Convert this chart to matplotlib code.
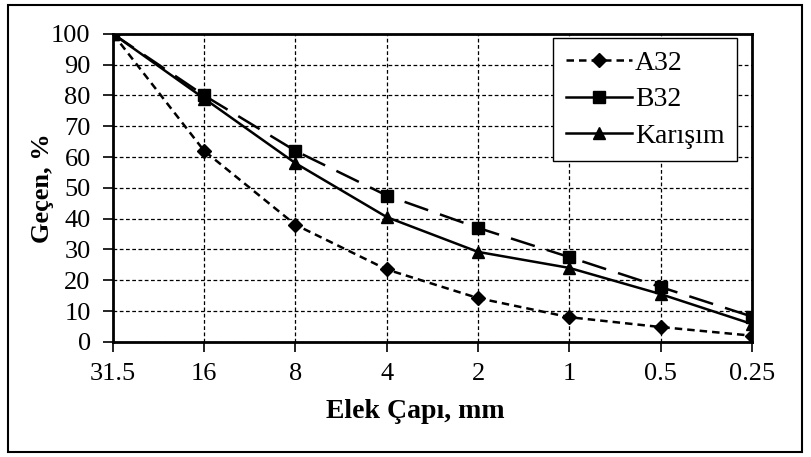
import numpy as np
import matplotlib.pyplot as plt
from matplotlib.lines import Line2D
from matplotlib.patches import Rectangle

plt.rcParams['font.family'] = ['Liberation Serif', 'DejaVu Serif']

sieves = ['31.5', '16', '8', '4', '2', '1', '0.5', '0.25']
a32 = [100, 62, 38, 23.5, 14.2, 8, 4.8, 2]
b32 = [100, 80, 62, 47.5, 37, 27.5, 17.8, 8.2]
karisim = [100, 79, 58, 40.5, 29.2, 24, 15.5, 5.8]

fig = plt.figure(figsize=(8.12, 4.57), dpi=100)
ax = fig.add_axes([0.139, 0.252, 0.787, 0.674])
x = np.arange(len(sieves))

ax.plot(x, a32, color='black', lw=1.8, ls=(0, (3, 2)), marker='D', ms=7, label='A32', zorder=3)
ax.plot(x, b32, color='black', lw=1.8, ls=(0, (10, 5)), marker='s', ms=9, label='B32', zorder=3)
ax.plot(x, karisim, color='black', lw=1.8, ls='-', marker='^', ms=9, label='Karışım', zorder=3)

ax.set_xlim(0, len(sieves) - 1)
ax.set_ylim(0, 100)
ax.set_xticks(x)
ax.set_xticklabels(sieves)
ax.set_yticks(np.arange(0, 101, 10))
ax.grid(True, color='black', ls=(0, (3, 2)), lw=0.9)
ax.tick_params(labelsize=19, direction='out', length=7, width=1.2, color='black')
ax.tick_params(axis='y', pad=9)
ax.tick_params(axis='x', pad=8)
for s in ax.spines.values():
    s.set_linewidth(2)
ax.set_ylabel('Geçen, %', fontsize=19, fontweight='bold')
ax.yaxis.set_label_coords(-0.092, 0.5)
ax.set_xlabel('Elek Çapı, mm', fontsize=20, fontweight='bold', va='center')
ax.xaxis.set_label_coords(0.474, -0.227)

handles = [
    Line2D([], [], color='black', lw=1.8, ls=(0, (3, 2)), marker='D', ms=7),
    Line2D([], [], color='black', lw=1.8, ls='-', marker='s', ms=9),
    Line2D([], [], color='black', lw=1.8, ls='-', marker='^', ms=9),
]
leg = ax.legend(handles, ['A32', 'B32', 'Karışım'], loc='upper right',
                bbox_to_anchor=(0.977, 0.987), borderaxespad=0, fontsize=20,
                fancybox=False, framealpha=1, edgecolor='black',
                handlelength=2.4, handletextpad=0.1, labelspacing=0.4,
                borderpad=0.45)
leg.get_frame().set_linewidth(1)

fig.patches.append(Rectangle((0.01, 0.011), 0.978, 0.978, transform=fig.transFigure,
                             fill=False, edgecolor='black', lw=1.5))

fig.savefig('out.png', dpi=100)
